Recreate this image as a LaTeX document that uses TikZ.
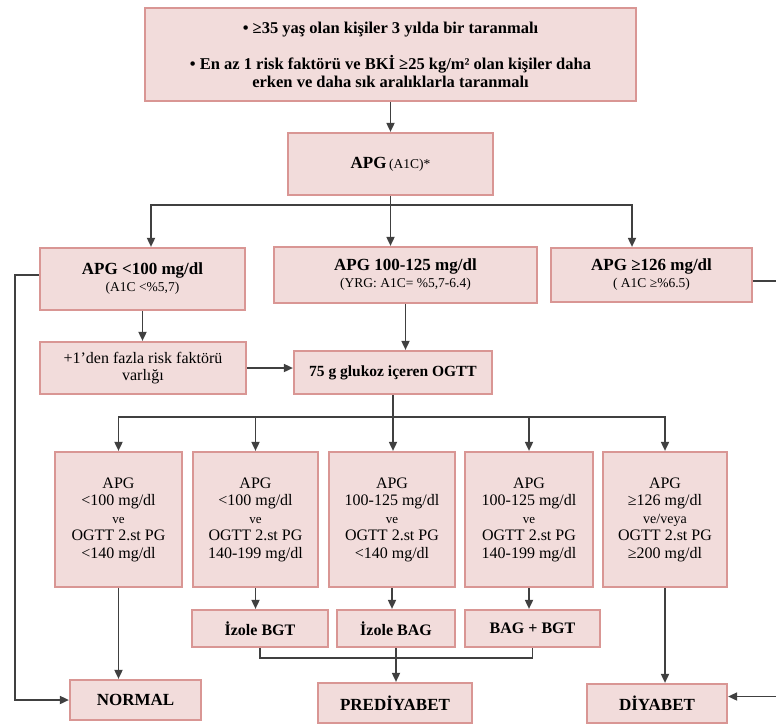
\documentclass[tikz,border=0pt]{standalone}
\usepackage{fontspec}
\setmainfont{Liberation Serif}
\usetikzlibrary{arrows.meta}
\definecolor{boxfill}{HTML}{F2DCDB}
\definecolor{boxline}{HTML}{D99694}
\definecolor{linecol}{HTML}{404040}

\begin{document}
\begin{tikzpicture}[x=1pt, y=-1pt,
  box/.style={shape=rectangle, draw=boxline, fill=boxfill, line width=2.2pt, inner sep=2pt, align=center},
  bigtxt/.style={font=\fontsize{17}{17}\selectfont\bfseries},
  testtxt/.style={font=\fontsize{16}{17.5}\selectfont},
  arr/.style={draw=linecol, line width=1.7pt, -{Triangle[length=9pt,width=8pt]}},
  ln/.style={draw=linecol, line width=1.7pt}]
\useasboundingbox (0,0) rectangle (776,724);

\node [box, minimum width=491, minimum height=93, font=\fontsize{16.5}{18}\selectfont\bfseries] (scr) at (390.5,54.5) {• ≥35 yaş olan kişiler 3 yılda bir taranmalı\\[18pt] • En az 1 risk faktörü ve BKİ ≥25 kg/m² olan kişiler daha\\ erken ve daha sık aralıklarla taranmalı};
\node [box, minimum width=205, minimum height=62] (apg) at (390.5,164) {{\fontsize{17}{17}\selectfont\bfseries APG} {\fontsize{13.5}{17}\selectfont (A1C)*}};

\node [box, bigtxt, minimum width=205, minimum height=62] (lo) at (142.5,279) {APG <100 mg/dl\\{\fontsize{13.5}{17}\selectfont\mdseries (A1C <\%5,7)}};
\node [box, bigtxt, minimum width=263, minimum height=56] (mid) at (405.5,275) {APG 100-125 mg/dl\\{\fontsize{13.5}{17}\selectfont\mdseries (YRG: A1C= \%5,7-6.4)}};
\node [box, bigtxt, minimum width=201, minimum height=54] (hi) at (651.5,275) {APG ≥126 mg/dl\\{\fontsize{13.5}{17}\selectfont\mdseries ( A1C ≥\%6.5)}};

\node [box, testtxt, minimum width=206, minimum height=52] (risk) at (143,368) {+1’den fazla risk faktörü\\ varlığı};
\node [box, font=\fontsize{15.5}{17}\selectfont\bfseries, minimum width=198, minimum height=43] (ogtt) at (393,372.5) {75 g glukoz içeren OGTT};

\node [box, testtxt, minimum width=127, minimum height=135] (b1) at (118.5,519.5) {APG\\<100 mg/dl\\{\fontsize{13}{17.5}\selectfont ve}\\OGTT 2.st PG\\<140 mg/dl};
\node [box, testtxt, minimum width=125, minimum height=135] (b2) at (255.5,519.5) {APG\\<100 mg/dl\\{\fontsize{13}{17.5}\selectfont ve}\\OGTT 2.st PG\\140-199 mg/dl};
\node [box, testtxt, minimum width=126, minimum height=135] (b3) at (392,519.5) {APG\\100-125 mg/dl\\{\fontsize{13}{17.5}\selectfont ve}\\OGTT 2.st PG\\<140 mg/dl};
\node [box, testtxt, minimum width=128, minimum height=135] (b4) at (529,519.5) {APG\\100-125 mg/dl\\{\fontsize{13}{17.5}\selectfont ve}\\OGTT 2.st PG\\140-199 mg/dl};
\node [box, testtxt, minimum width=124, minimum height=135] (b5) at (665,519.5) {APG\\≥126 mg/dl\\{\fontsize{14}{17.5}\selectfont ve/veya}\\OGTT 2.st PG\\≥200 mg/dl};

\node [box, font=\fontsize{16}{17}\selectfont\bfseries, minimum width=136, minimum height=37] (bgt) at (260,628.5) {İzole BGT};
\node [box, font=\fontsize{16}{17}\selectfont\bfseries, minimum width=118, minimum height=37] (bag) at (396,628.5) {İzole BAG};
\node [box, font=\fontsize{16}{17}\selectfont\bfseries, minimum width=135, minimum height=37] (bb) at (532.5,628.5) {BAG + BGT};

\node [box, bigtxt, minimum width=131, minimum height=40] (normal) at (135.5,700) {NORMAL};
\node [box, bigtxt, minimum width=154, minimum height=40] (pre) at (395,703) {PREDİYABET};
\node [box, bigtxt, minimum width=140, minimum height=39] (diy) at (657,703.5) {DİYABET};

\draw [arr] (scr) -- (apg);
\draw [arr] (apg.south) -- ++(0,9) -| ([xshift=8.5pt]lo.north);
\draw [arr] (apg.south) -- (apg.south |- mid.north);
\draw [arr] (apg.south) -- ++(0,9) -| ([xshift=-19.5pt]hi.north);

\draw [arr] (lo.south) -- (lo.south |- risk.north);
\draw [arr] (risk.east) -- (risk.east -| ogtt.west);
\draw [arr] (mid.south) -- (mid.south |- ogtt.north);

\foreach \b in {b1,b2,b4,b5}
  \draw [arr] (ogtt.south) -- ++(0,22) -| (\b.north);
\draw [arr] (ogtt.south) -- (ogtt.south |- b3.north);

\draw [arr] (b1.south) -- (b1.south |- normal.north);
\draw [arr] (b2.south) -- (b2.south |- bgt.north);
\draw [arr] (b3.south) -- (b3.south |- bag.north);
\draw [arr] (b4.south) -- (b4.south |- bb.north);
\draw [arr] (b5.south) -- (b5.south |- diy.north);

\draw [ln] (bgt.south) -- ++(0,10) -| (bb.south);
\draw [arr] (bag.south) -- (bag.south |- pre.north);

\draw [arr] ([yshift=4pt]lo.west) -- ++(-24,0) |- (normal.west);
\draw [arr] ([yshift=-6pt]hi.east) -- ++(26,0) |- ([yshift=7pt]diy.east);
\end{tikzpicture}
\end{document}
